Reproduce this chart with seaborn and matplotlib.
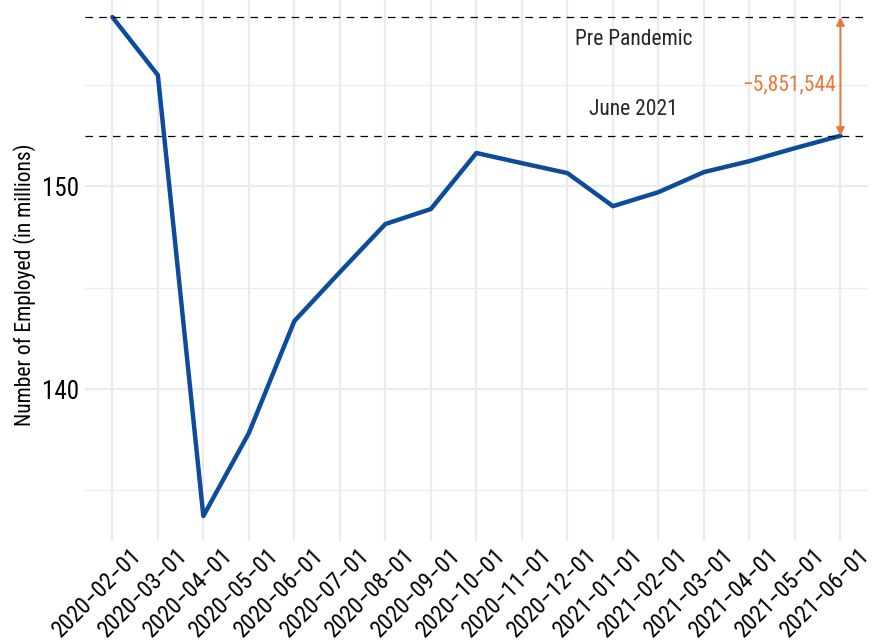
import pandas as pd
import matplotlib.pyplot as plt
import matplotlib.transforms as mtransforms
import seaborn as sns

# employment, millions
dates = ["2020-02-01", "2020-03-01", "2020-04-01", "2020-05-01", "2020-06-01",
         "2020-07-01", "2020-08-01", "2020-09-01", "2020-10-01", "2020-11-01",
         "2020-12-01", "2021-01-01", "2021-02-01", "2021-03-01", "2021-04-01",
         "2021-05-01", "2021-06-01"]
employed = [158.33, 155.47, 133.74, 137.83, 143.35, 145.76, 148.13, 148.87,
            151.63, 151.13, 150.64, 149.01, 149.70, 150.69, 151.23, 151.87,
            152.48]
gap_label = "\u22125,851,544"

df = pd.DataFrame({"date": dates, "employed": employed})
pre = employed[0]
june = employed[-1]

sns.set_theme(style="whitegrid")
plt.rcParams["font.family"] = ["Roboto Condensed", "Liberation Sans Narrow", "DejaVu Sans"]

fig = plt.figure(figsize=(8.73, 6.41), dpi=100)
ax = fig.add_axes([0.0974, 0.156, 0.8966, 0.844])

sns.lineplot(data=df, x="date", y="employed", color="#0d4c9b", linewidth=3.2, ax=ax)

ax.axhline(pre, color="black", linestyle=(0, (6, 5)), linewidth=0.9)
ax.axhline(june, color="black", linestyle=(0, (6, 5)), linewidth=0.9)

ax.annotate("", xy=(16, pre), xytext=(16, june),
            arrowprops=dict(arrowstyle="<|-|>", color="#e8793c", lw=1.4,
                            mutation_scale=12, shrinkA=0, shrinkB=0))
ax.text(15.9, (pre + june) / 2 - 0.4, gap_label, color="#e8793c", fontsize=15.5,
        ha="right", va="center")
ax.text(11.45, 157.2, "Pre Pandemic", fontsize=15.5, ha="center", va="center")
ax.text(11.45, 153.75, "June 2021", fontsize=15.5, ha="center", va="center")

ax.set_xlim(-0.6, 16.6)
ax.set_ylim(132.51, 159.17)
ax.set_yticks([140, 150])
ax.set_yticks([135, 145, 155], minor=True)
ax.grid(which="major", color="#ebebeb", linewidth=1.6)
ax.grid(which="minor", axis="y", color="#ebebeb", linewidth=0.9)
ax.set_facecolor("white")
for s in ax.spines.values():
    s.set_visible(False)

ax.set_xticks(range(len(dates)))
ax.set_xticklabels([d.replace("-", "\u2212") for d in dates])
ax.set_xlabel("")
ax.set_ylabel("Number of Employed (in millions)", fontsize=15.5, color="black")
ax.yaxis.set_label_coords(-0.063, 0.474)
ax.tick_params(axis="y", length=0, labelsize=18, colors="black", pad=4)
ax.tick_params(axis="x", length=0, labelsize=16.8, colors="black", pad=2)
shift = mtransforms.ScaledTranslation(0.18, 0, fig.dpi_scale_trans)
for lab in ax.get_xticklabels():
    lab.set_rotation(45)
    lab.set_ha("right")
    lab.set_rotation_mode("anchor")
    lab.set_transform(lab.get_transform() + shift)

fig.savefig("out.png", dpi=100)
